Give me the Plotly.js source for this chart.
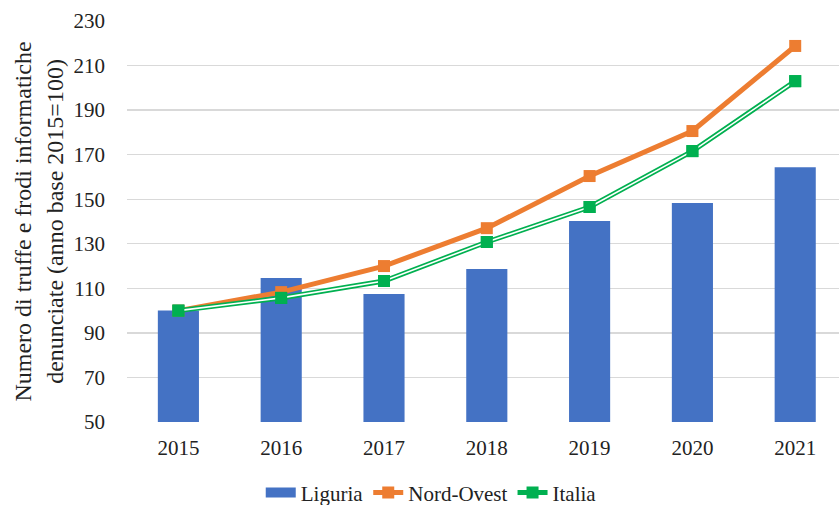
<!DOCTYPE html>
<html>
<head>
<meta charset="utf-8">
<script src="https://cdn.plot.ly/plotly-3.0.1.min.js"></script>
<style>html,body{margin:0;padding:0;background:#fff;}#chart{width:839px;height:505px;}</style>
</head>
<body>
<div id="chart"></div>
<script>
const years = ["2015", "2016", "2017", "2018", "2019", "2020", "2021"];
const liguria = [100, 114.6, 107.5, 118.7, 140.2, 148.3, 164.4];
const nordOvest = [100, 108.3, 120.0, 137.0, 160.4, 180.6, 218.8];
const italia = [100, 105.7, 113.3, 130.8, 146.5, 171.6, 203.0];
const yTicks = [50, 70, 90, 110, 130, 150, 170, 190, 210, 230];

const font = "'Liberation Serif', 'Times New Roman', Times, serif";
const traces = [
  {type: "bar", name: "Liguria", x: years, y: liguria, width: 0.4, legendgroup: "lig",
   marker: {color: "#4472C4"}, showlegend: false},
  {type: "scatter", mode: "lines", name: "Liguria", x: [years[0]], y: [null], legendgroup: "lig",
   line: {color: "#4472C4", width: 10}, hoverinfo: "skip"},
  {type: "scatter", mode: "lines+markers", name: "Nord-Ovest", x: years, y: nordOvest,
   line: {color: "#ED7D31", width: 5}, marker: {symbol: "square", size: 12, color: "#ED7D31"}},
  {type: "scatter", mode: "lines+markers", name: "Italia", x: years, y: italia, legendgroup: "it",
   line: {color: "#00B050", width: 5}, marker: {symbol: "square", size: 12, color: "#00B050"}},
  {type: "scatter", mode: "lines", name: "Italia", x: years, y: italia, legendgroup: "it",
   line: {color: "#ffffff", width: 1.6}, showlegend: false},
  {type: "scatter", mode: "markers", name: "Italia", x: years, y: italia, legendgroup: "it",
   marker: {symbol: "square", size: 12, color: "#00B050"}, showlegend: false}
];
const layout = {
  width: 839, height: 505,
  margin: {l: 127, r: 0, t: 21, b: 83},
  paper_bgcolor: "#fff", plot_bgcolor: "#fff",
  font: {family: font, size: 21, color: "#222"},
  showlegend: true,
  legend: {orientation: "h", xref: "container", yref: "container", x: 0.514, xanchor: "center",
           y: 0.024, yanchor: "middle", font: {family: font, size: 21, color: "#222"},
           traceorder: "normal"},
  xaxis: {type: "category", range: [-0.5, 6.426], showgrid: false, zeroline: false,
          showline: false, ticks: "", ticklabelstandoff: 11,
          tickfont: {family: font, size: 21, color: "#222"}},
  yaxis: {range: [50, 230], tickvals: yTicks, showgrid: true, gridcolor: "#d9d9d9", gridwidth: 1.3,
          zeroline: false, showline: false, ticks: "", ticklabelstandoff: 21,
          tickfont: {family: font, size: 21, color: "#222"},
          title: {text: "Numero di truffe e frodi informatiche<br>denunciate (anno base 2015=100)",
                  font: {family: font, size: 24, color: "#222"}, standoff: 3}}
};
Plotly.newPlot("chart", traces, layout, {displayModeBar: false, staticPlot: true});
</script>
</body>
</html>
